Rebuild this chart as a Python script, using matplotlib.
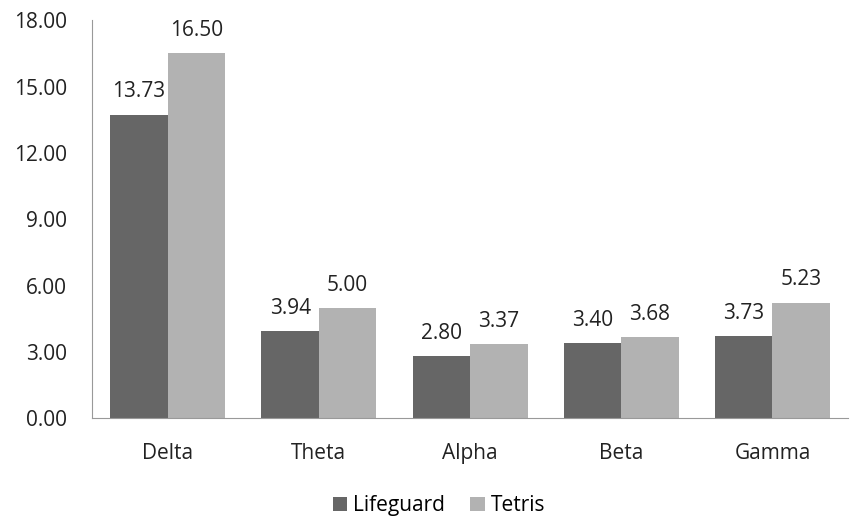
import numpy as np
import matplotlib
matplotlib.use('Agg')
import matplotlib.pyplot as plt

categories = ['Delta', 'Theta', 'Alpha', 'Beta', 'Gamma']
lifeguard = [13.73, 3.94, 2.80, 3.40, 3.73]
tetris = [16.50, 5.00, 3.37, 3.68, 5.23]
yticks = [0, 3, 6, 9, 12, 15, 18]

plt.rcParams['font.family'] = ['Open Sans', 'DejaVu Sans']
fs = 15

fig = plt.figure(figsize=(8.61, 5.17), dpi=100)
ax = fig.add_axes([0.107, 0.191, 0.878, 0.77])

x = np.arange(len(categories))
w = 0.38
b1 = ax.bar(x - w / 2, lifeguard, w, color='#666666', label='Lifeguard')
b2 = ax.bar(x + w / 2, tetris, w, color='#b2b2b2', label='Tetris')

for bars, vals in ((b1, lifeguard), (b2, tetris)):
    for r, v in zip(bars, vals):
        ax.text(r.get_x() + r.get_width() / 2, v + 0.55, '%.2f' % v,
                ha='center', va='bottom', fontsize=fs, color='#222222')

ax.set_xlim(-0.5, 4.5)
ax.set_ylim(0, 18)
ax.set_yticks(yticks)
ax.set_yticklabels(['%.2f' % t for t in yticks])
ax.set_xticks(x)
ax.set_xticklabels(categories)
ax.tick_params(axis='both', length=0, labelsize=fs, colors='#222222')
ax.tick_params(axis='y', pad=18)
ax.tick_params(axis='x', pad=18)
for s in ('top', 'right'):
    ax.spines[s].set_visible(False)
ax.spines['left'].set_color('#999999')
ax.spines['bottom'].set_color('#999999')

fig.legend(loc='lower center', bbox_to_anchor=(0.51, -0.035), ncol=2, frameon=False,
           fontsize=fs, handlelength=0.7, handleheight=0.7, handletextpad=0.3,
           columnspacing=1.2)

fig.savefig('out.png', dpi=100)
